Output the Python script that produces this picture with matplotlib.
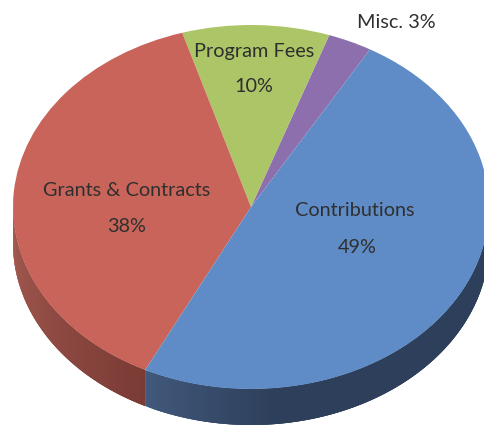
import numpy as np
import matplotlib
matplotlib.use("Agg")
import matplotlib.pyplot as plt
from matplotlib.colors import to_rgb

# data
categories = ["Misc.", "Program Fees", "Grants & Contracts", "Contributions"]
values = [3, 10, 38, 49]

# style
top_colors = ["#8e6fae", "#abc567", "#c8645a", "#5f8cc6"]
wall_light = ["#6a5285", "#82965a", "#a65c52", "#41597c"]
wall_dark = ["#5a4670", "#6f804c", "#7a3b35", "#2d3f5a"]
wall_ramp = [1.0, 1.0, 1.0, 0.28]
START = 60.0
W, H = 485, 426
CX, CY, RX, RY, DEPTH = 251.0, 207.0, 238.0, 182.0, 36.0

plt.rcParams["font.family"] = ["Lato", "DejaVu Sans"]
fig = plt.figure(figsize=(W / 100, H / 100), dpi=100, facecolor="white")
ax = fig.add_axes([0, 0, 1, 1])

ax.pie(values, colors=top_colors, startangle=START, counterclock=True,
       radius=1.0, center=(0, 0), normalize=True,
       wedgeprops=dict(linewidth=0, zorder=3, antialiased=True))
ax.set_aspect("auto")
ax.set_xlim((0 - CX) / RX, (W - CX) / RX)
ax.set_ylim((CY - H) / RY, CY / RY)
ax.axis("off")

# side wall of the front half, derived from the same values
d = DEPTH / RY
edges = START + np.concatenate([[0], np.cumsum(values)]) * 3.6
for i in range(len(values)):
    a0, a1 = edges[i], edges[i + 1]
    lo, hi = max(a0, 180.0), min(a1, 360.0)
    if lo >= hi:
        continue
    ts = np.linspace(lo, hi, 120)
    c0, c1 = np.array(to_rgb(wall_light[i])), np.array(to_rgb(wall_dark[i]))
    for k in range(len(ts) - 1):
        t = np.radians(np.linspace(ts[k], ts[min(k + 3, len(ts) - 1)], 4))
        x = np.cos(t)
        y = np.sin(t)
        f = min(1.0, (k + 0.5) / (len(ts) - 1) / wall_ramp[i])
        ax.fill(np.r_[x, x[::-1]], np.r_[y, y[::-1] - d],
                color=tuple(c0 + (c1 - c0) * f), lw=0, zorder=2)

# labels
label_px = [(396, 22), (254, 52), (127, 190), (355, 210)]
pct_px = [None, (254, 87), (127, 227), (357, 248)]
FS = 14.3
TC = "#2f2f2f"
for name, v, lp, pp in zip(categories, values, label_px, pct_px):
    if pp is None:
        fig.text(lp[0] / W, 1 - lp[1] / H, f"{name} {v}%", ha="center", va="center",
                 fontsize=FS, color=TC)
    else:
        fig.text(lp[0] / W, 1 - lp[1] / H, name, ha="center", va="center",
                 fontsize=FS, color=TC)
        fig.text(pp[0] / W, 1 - pp[1] / H, f"{v}%", ha="center", va="center",
                 fontsize=FS, color=TC)

fig.savefig("out.png", dpi=100, facecolor="white")
